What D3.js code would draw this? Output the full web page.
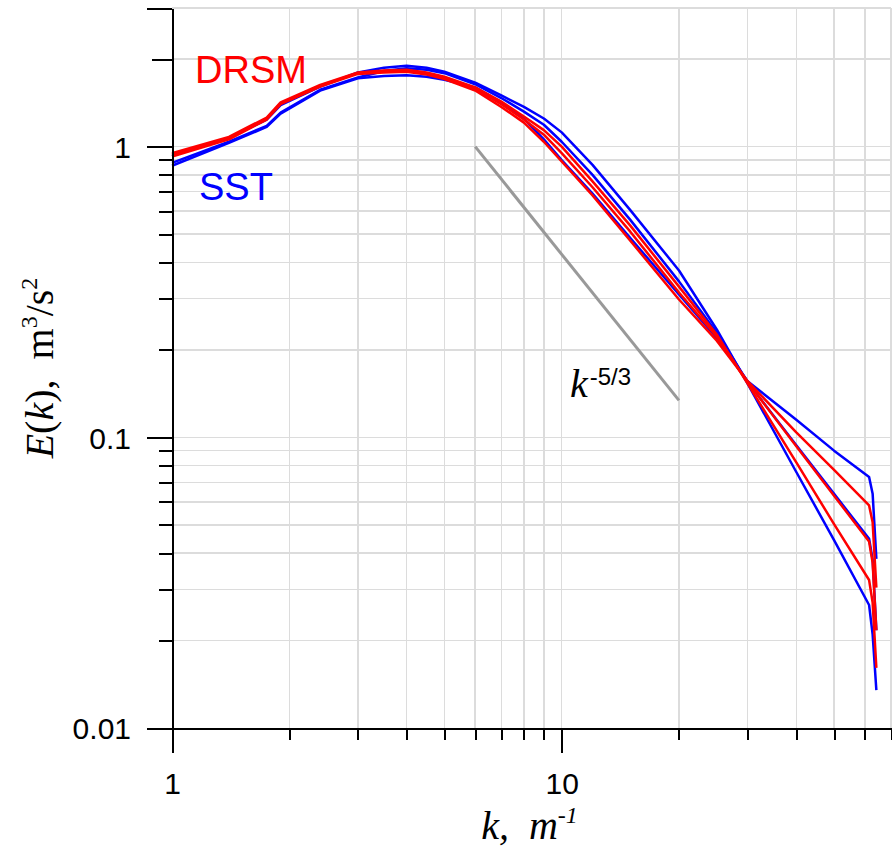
<!DOCTYPE html>
<html lang="en">
<head>
    <meta charset="UTF-8">
    <title>Energy spectrum E(k)</title>
    <script src="https://d3js.org/d3.v7.min.js"></script>
    <style>
        body { margin: 0; background: #fff; }
        .axis text { font-family: "Liberation Sans", Arial, sans-serif; font-size: 30px; fill: #000; }
        .axis path, .axis line { stroke: #000; stroke-width: 2; shape-rendering: crispEdges; }
        .grid line { stroke: #dcdcdc; stroke-width: 1.5; shape-rendering: crispEdges; }
        .serif { font-family: "Liberation Serif", "Times New Roman", serif; }
    </style>
</head>
<body>
    <script>
        // wavenumbers where the spectra were sampled
        const kVals = [1, 1.4, 1.75, 1.9, 2.4, 3, 3.5, 4, 4.5, 5, 6, 7, 8, 9, 10, 12, 15, 20, 25, 30, 40, 50, 61.5, 62.8, 64.2];

        // SST runs
        const sst1 = [0.93, 1.07, 1.24, 1.39, 1.61, 1.80, 1.87, 1.90, 1.87, 1.81, 1.66, 1.50, 1.37, 1.25, 1.12, 0.866, 0.605, 0.375, 0.235, 0.153, 0.076, 0.0443, 0.0265, 0.021, 0.0135];
        const sst2 = [0.88, 1.04, 1.18, 1.31, 1.57, 1.73, 1.82, 1.86, 1.84, 1.79, 1.64, 1.47, 1.32, 1.19, 1.04, 0.80, 0.56, 0.344, 0.229, 0.155, 0.094, 0.0639, 0.0448, 0.038, 0.0217];
        const sst3 = [0.86, 1.03, 1.17, 1.30, 1.56, 1.72, 1.75, 1.76, 1.74, 1.70, 1.60, 1.42, 1.25, 1.06, 0.90, 0.69, 0.485, 0.31, 0.22, 0.156, 0.115, 0.090, 0.0731, 0.064, 0.0382];

        // DRSM runs
        const drsm1 = [0.95, 1.08, 1.26, 1.42, 1.63, 1.80, 1.83, 1.84, 1.80, 1.74, 1.60, 1.43, 1.27, 1.14, 1.00, 0.76, 0.535, 0.33, 0.226, 0.153, 0.082, 0.0503, 0.0323, 0.027, 0.0161];
        const drsm2 = [0.94, 1.07, 1.25, 1.41, 1.62, 1.79, 1.82, 1.83, 1.79, 1.73, 1.58, 1.40, 1.24, 1.10, 0.95, 0.725, 0.51, 0.315, 0.222, 0.155, 0.0932, 0.063, 0.0438, 0.037, 0.0217];
        const drsm3 = [0.925, 1.06, 1.24, 1.40, 1.61, 1.78, 1.80, 1.81, 1.77, 1.71, 1.56, 1.37, 1.21, 1.04, 0.89, 0.68, 0.475, 0.298, 0.215, 0.156, 0.104, 0.0773, 0.0583, 0.051, 0.0304];

        // k^-5/3 reference slope
        const refK = [6, 20];
        const refE = [1.0, 0.134];

        // ticks
        const xMajor = [1, 10];
        const xMinor = [2, 3, 4, 5, 6, 7, 8, 9, 20, 30, 40, 50, 60, 70];
        const yMajor = [0.01, 0.1, 1];
        const yMinor = [0.02, 0.03, 0.04, 0.05, 0.06, 0.07, 0.08, 0.09, 0.2, 0.3, 0.4, 0.5, 0.6, 0.7, 0.8, 0.9];
        const yMid = [2];
        const yTop = [3];

        const width = 892, height = 849;
        const margin = { top: 8, right: 1, bottom: 121, left: 172 };
        const innerW = width - margin.left - margin.right;
        const innerH = height - margin.top - margin.bottom;

        const svg = d3.select("body").append("svg")
            .attr("width", width)
            .attr("height", height);

        const g = svg.append("g")
            .attr("transform", `translate(${margin.left},${margin.top})`);

        const x = d3.scaleLog().domain([1, 70]).range([0, innerW]);
        const y = d3.scaleLog().domain([0.01, 3]).range([innerH, 0]);

        // grid
        const grid = g.append("g").attr("class", "grid");
        grid.selectAll(".vx")
            .data(xMinor.concat([10]))
            .enter().append("line")
            .attr("x1", d => x(d)).attr("x2", d => x(d))
            .attr("y1", 0).attr("y2", innerH);
        grid.selectAll(".hy")
            .data(yMinor.concat([0.1, 1, 2, 3]))
            .enter().append("line")
            .attr("x1", 0).attr("x2", innerW)
            .attr("y1", d => y(d)).attr("y2", d => y(d));

        // reference line
        g.append("path")
            .datum(refK.map((k, i) => [k, refE[i]]))
            .attr("fill", "none")
            .attr("stroke", "#999")
            .attr("stroke-width", 3)
            .attr("d", d3.line().x(d => x(d[0])).y(d => y(d[1])));

        const line = d3.line()
            .x(d => x(d[0]))
            .y(d => y(d[1]));

        const series = [
            { vals: sst1, color: "#0000ff" },
            { vals: sst2, color: "#0000ff" },
            { vals: sst3, color: "#0000ff" },
            { vals: drsm1, color: "#ff0000" },
            { vals: drsm2, color: "#ff0000" },
            { vals: drsm3, color: "#ff0000" }
        ];

        g.selectAll(".spec")
            .data(series)
            .enter().append("path")
            .attr("class", "spec")
            .attr("fill", "none")
            .attr("stroke", d => d.color)
            .attr("stroke-width", 2.5)
            .attr("stroke-linejoin", "round")
            .attr("d", d => line(kVals.map((k, i) => [k, d.vals[i]])));

        // axes
        g.append("g").attr("class", "axis")
            .attr("transform", `translate(0,${innerH})`)
            .call(d3.axisBottom(x).tickValues(xMinor).tickSize(12).tickSizeOuter(0).tickFormat(""));
        g.append("g").attr("class", "axis")
            .attr("transform", `translate(0,${innerH})`)
            .call(d3.axisBottom(x).tickValues(xMajor).tickSize(25).tickSizeOuter(0).tickPadding(20).tickFormat(d3.format("d")));

        g.append("g").attr("class", "axis")
            .call(d3.axisLeft(y).tickValues(yMinor).tickSize(13).tickSizeOuter(0).tickFormat(""));
        g.append("g").attr("class", "axis")
            .call(d3.axisLeft(y).tickValues(yMid).tickSize(20).tickSizeOuter(0).tickFormat(""));
        g.append("g").attr("class", "axis")
            .call(d3.axisLeft(y).tickValues(yTop).tickSize(25).tickSizeOuter(0).tickFormat(""));
        g.append("g").attr("class", "axis")
            .call(d3.axisLeft(y).tickValues(yMajor).tickSize(25).tickSizeOuter(0).tickPadding(16).tickFormat(d => String(d)))
            .selectAll("text").attr("dy", "0.36em");

        // legend labels
        g.append("text")
            .attr("x", 23).attr("y", 75)
            .attr("fill", "#ff0000")
            .style("font-family", "'Liberation Sans', Arial, sans-serif")
            .style("font-size", "38px")
            .text("DRSM");
        g.append("text")
            .attr("x", 27).attr("y", 192)
            .attr("fill", "#0000ff")
            .style("font-family", "'Liberation Sans', Arial, sans-serif")
            .style("font-size", "38px")
            .text("SST");

        // slope label
        const slope = g.append("text")
            .attr("x", x(10.5)).attr("y", y(0.138))
            .attr("fill", "#000");
        slope.append("tspan")
            .attr("class", "serif")
            .style("font-style", "italic")
            .style("font-size", "40px")
            .text("k");
        slope.append("tspan")
            .attr("dy", -12)
            .attr("dx", 2)
            .style("font-family", "'Liberation Sans', Arial, sans-serif")
            .style("font-size", "24px")
            .text("-5/3");

        // x label
        const xl = svg.append("text")
            .attr("class", "serif")
            .attr("x", margin.left + innerW / 2 - 2)
            .attr("y", 839)
            .attr("text-anchor", "middle")
            .style("font-size", "40px")
            .style("font-style", "italic");
        xl.append("tspan").text("k,\u00a0\u00a0m");
        xl.append("tspan").attr("dy", -16).style("font-size", "24px").text("-1");

        // y label
        const yl = svg.append("text")
            .attr("class", "serif")
            .attr("transform", `translate(53,${margin.top + innerH / 2}) rotate(-90)`)
            .attr("text-anchor", "middle")
            .style("font-size", "40px");
        yl.append("tspan").style("font-style", "italic").text("E");
        yl.append("tspan").text("(");
        yl.append("tspan").style("font-style", "italic").text("k");
        yl.append("tspan").text("),\u00a0\u00a0m");
        yl.append("tspan").attr("dy", -16).style("font-size", "24px").text("3");
        yl.append("tspan").attr("dy", 16).text("/s");
        yl.append("tspan").attr("dy", -16).style("font-size", "24px").text("2");
    </script>
</body>
</html>
